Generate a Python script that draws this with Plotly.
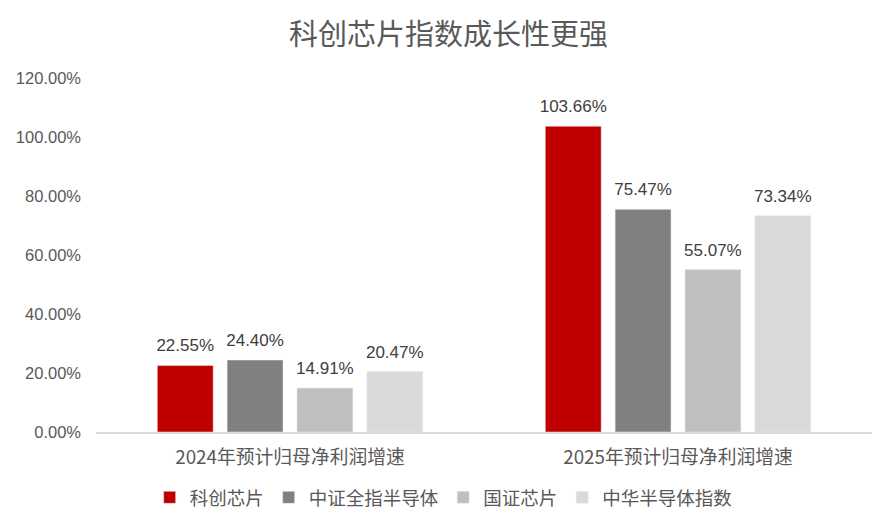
import plotly.graph_objects as go

categories = ["2024年预计归母净利润增速", "2025年预计归母净利润增速"]
series_names = ["科创芯片", "中证全指半导体", "国证芯片", "中华半导体指数"]
values = [
    [0.2255, 1.0366],
    [0.2440, 0.7547],
    [0.1491, 0.5507],
    [0.2047, 0.7334],
]
colors = ["#C00000", "#808080", "#BFBFBF", "#D9D9D9"]
tick_vals = [0, 0.2, 0.4, 0.6, 0.8, 1.0, 1.2]
tick_text = ["0.00%", "20.00%", "40.00%", "60.00%", "80.00%", "100.00%", "120.00%"]

FONT = "Noto Sans CJK SC, Liberation Sans, sans-serif"
NUMFONT = "Liberation Sans, sans-serif"
GAP = 0.28

fig = go.Figure()
for name, vals, c in zip(series_names, values, colors):
    fig.add_trace(go.Bar(x=categories, y=vals, name=name, marker_color=c))
# value labels (invisible markers so the text sits a little above the bar top)
for name, vals in zip(series_names, values):
    fig.add_trace(go.Scatter(
        x=categories, y=vals, mode="markers+text", showlegend=False, hoverinfo="skip",
        marker=dict(size=14, opacity=0),
        text=[f"{v*100:.2f}%" for v in vals], textposition="top center",
        textfont=dict(size=17, color="#404040", family=NUMFONT),
        cliponaxis=False,
    ))

fig.update_layout(
    width=894, height=530,
    margin=dict(l=88, r=30, t=70, b=106),
    paper_bgcolor="white", plot_bgcolor="white",
    barmode="group", bargap=GAP, bargroupgap=0.2,
    scattermode="group", scattergap=GAP,
    title=dict(text="科创芯片指数成长性更强", x=0.4927, xanchor="center", y=0.949, yanchor="middle",
               font=dict(size=29, color="#595959", family=FONT)),
    font=dict(family=FONT, color="#595959"),
    showlegend=True,
    legend=dict(orientation="h", x=0.448, xanchor="center", y=-0.186, yanchor="middle",
                font=dict(size=18.5, color="#595959", family=FONT), itemwidth=30,
                traceorder="normal"),
)
fig.update_yaxes(range=[0, 1.2], tickvals=tick_vals, ticktext=tick_text, showgrid=False,
                 zeroline=False, showline=False, ticklabelstandoff=14, automargin=False,
                 tickfont=dict(size=16.5, color="#595959", family=NUMFONT))
fig.update_xaxes(range=[-0.5, 1.5], showline=True, linecolor="#D9D9D9", linewidth=1.5,
                 showgrid=False, ticklabelstandoff=8, automargin=False,
                 tickfont=dict(size=18.8, color="#595959", family=FONT))

fig.write_html("out.html")
